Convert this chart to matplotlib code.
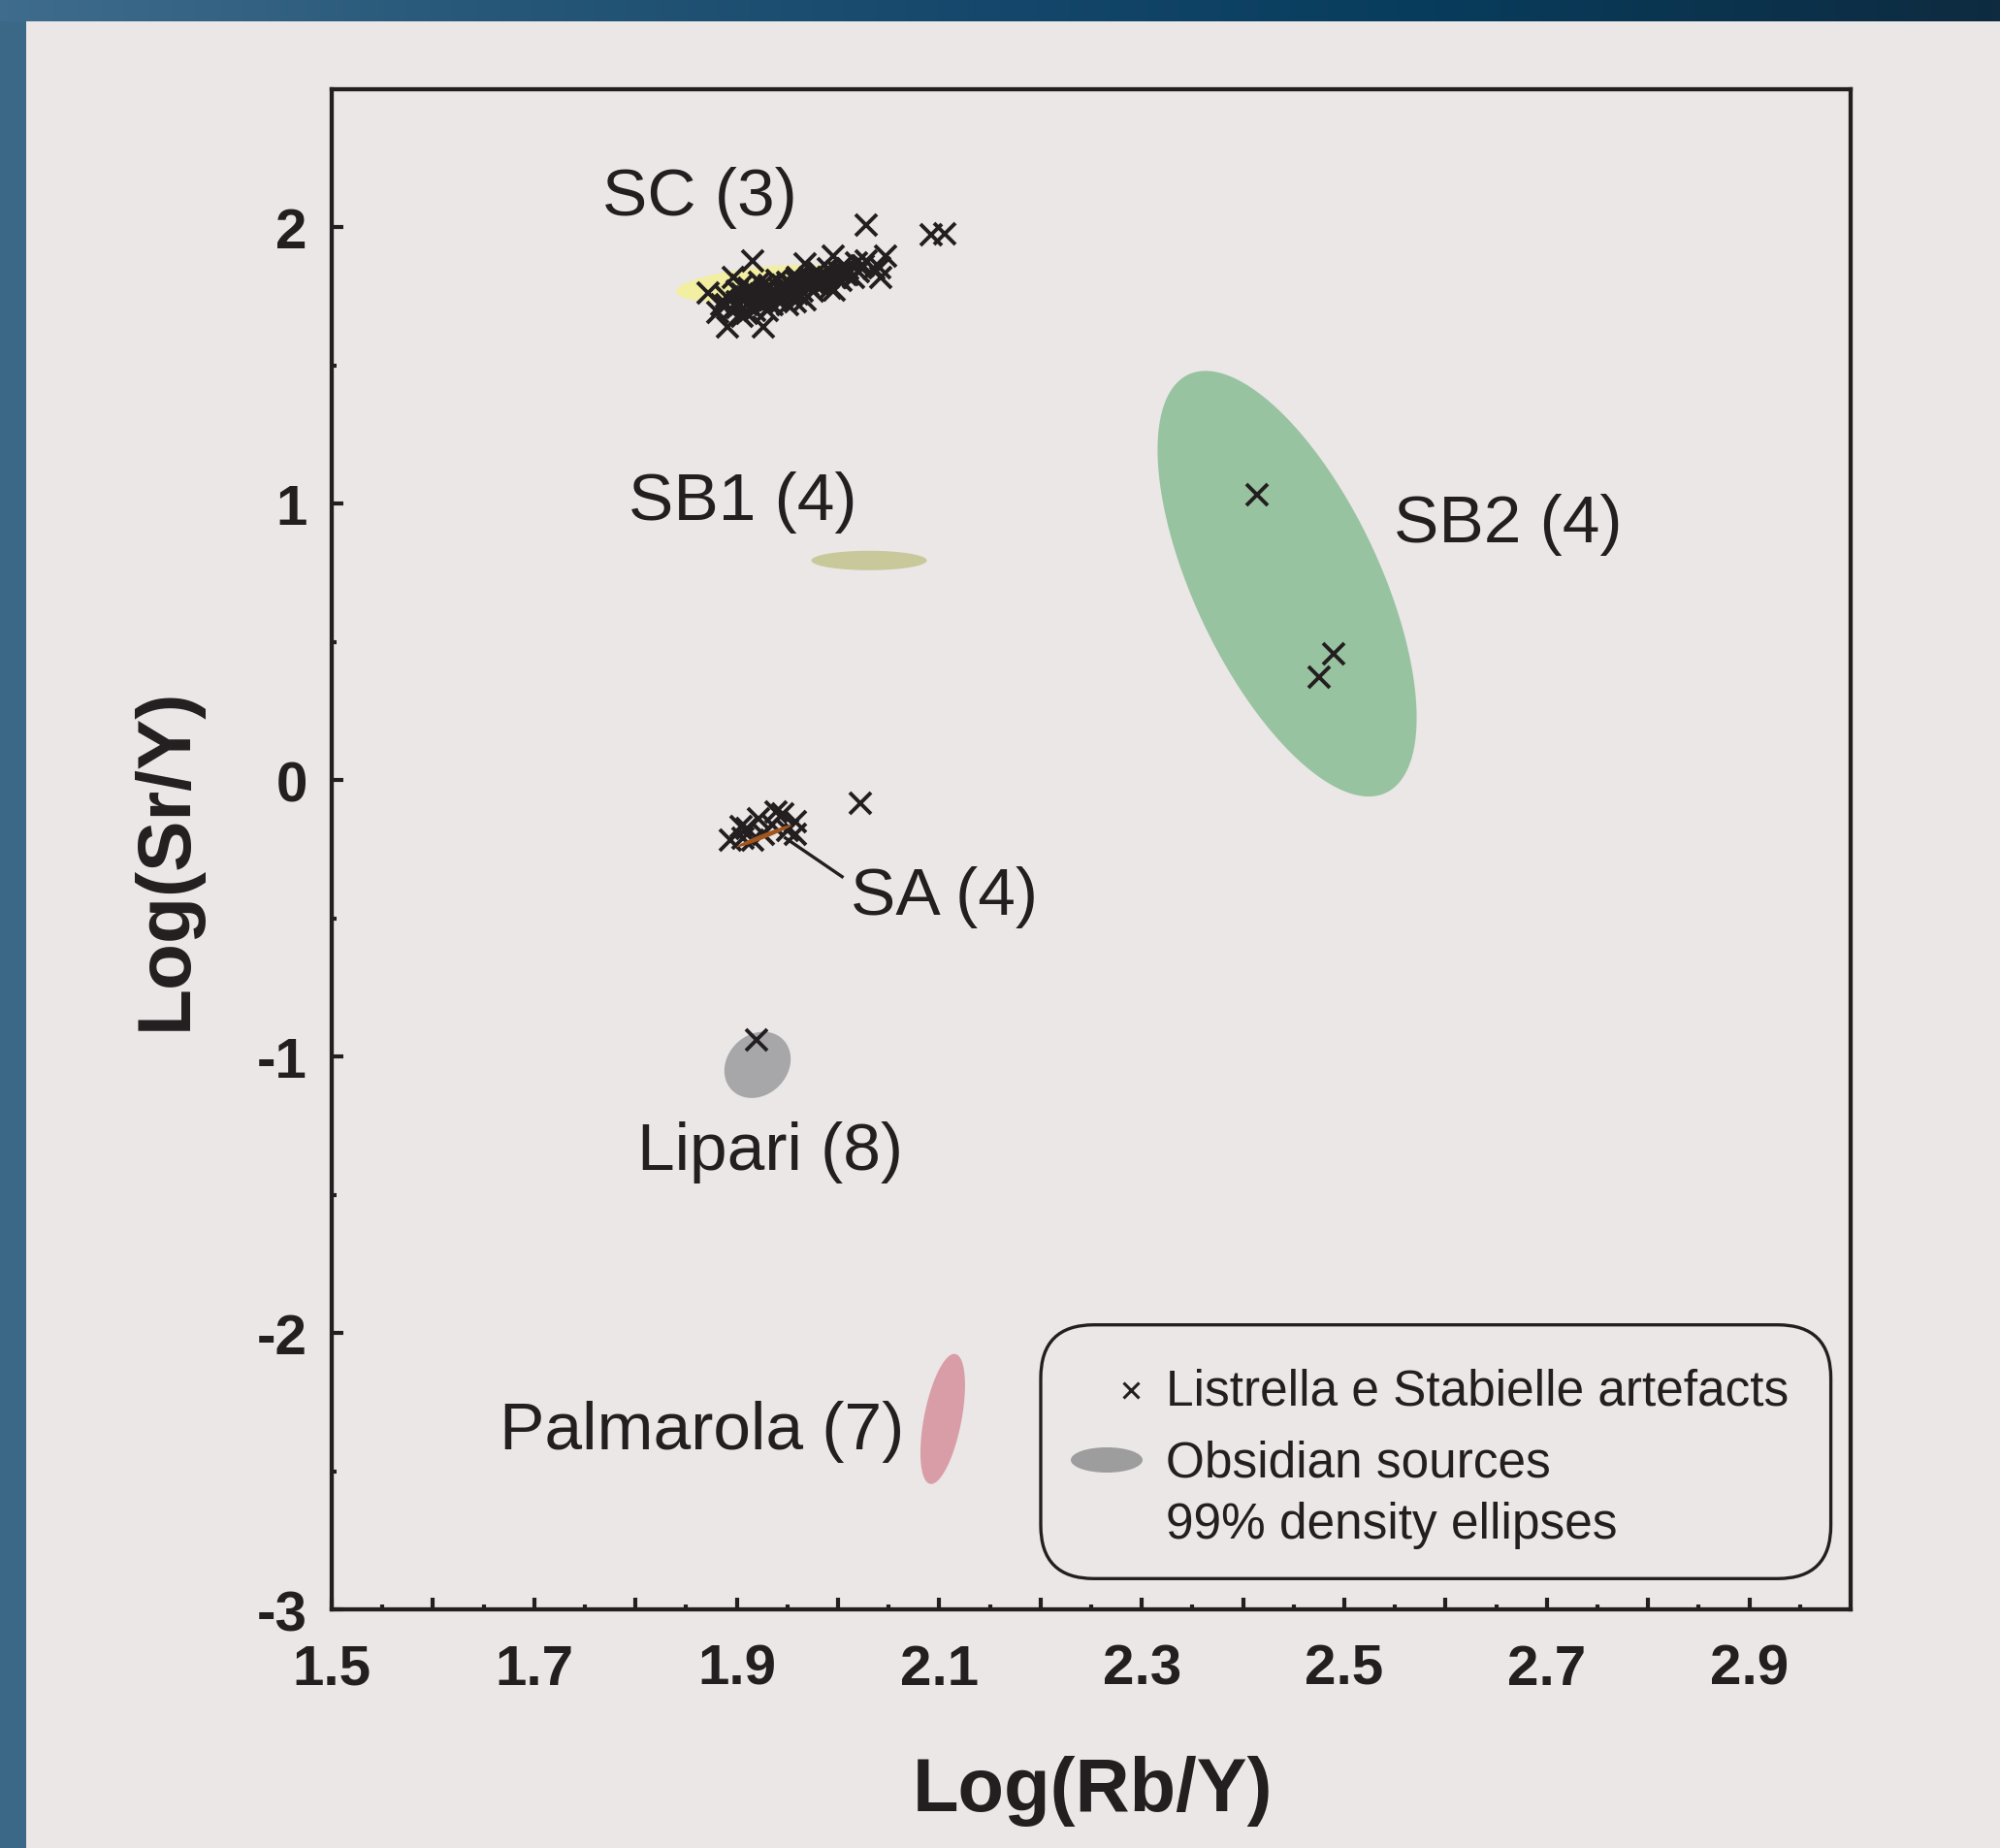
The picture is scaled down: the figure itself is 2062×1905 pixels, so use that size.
import numpy as np
import matplotlib
matplotlib.use("Agg")
import matplotlib.pyplot as plt
from matplotlib.patches import Polygon, FancyBboxPatch, Ellipse
from matplotlib.colors import LinearSegmentedColormap
from matplotlib import font_manager

names = {f.name for f in font_manager.fontManager.ttflist}
SANS = 'Liberation Sans' if 'Liberation Sans' in names else 'DejaVu Sans'
plt.rcParams['font.family'] = [SANS, 'DejaVu Sans']
plt.rcParams['axes.unicode_minus'] = False

# ---------------- data ----------------
sc_x = [1.872, 1.881, 1.891, 1.926, 1.897, 1.916, 1.885, 1.890, 1.895, 1.900, 1.905, 1.910,
        1.912, 1.915, 1.918, 1.920, 1.922, 1.925, 1.928, 1.930, 1.932, 1.935, 1.938, 1.940,
        1.942, 1.945, 1.948, 1.950, 1.952, 1.955, 1.958, 1.960, 1.962, 1.965, 1.967, 1.967,
        1.970, 1.972, 1.975, 1.978, 1.980, 1.982, 1.985, 1.988, 1.990, 1.992, 1.995, 1.996,
        1.998, 2.000, 2.003, 2.005, 2.008, 2.010, 2.015, 2.018, 2.020, 2.025, 2.028, 2.028,
        2.035, 2.041, 2.042, 2.047, 2.092, 2.105, 1.930, 1.950, 1.905,
        1.900, 1.905, 1.910, 1.915, 1.920, 1.925, 1.930, 1.935, 1.940, 1.945, 1.950, 1.955,
        1.960, 1.965, 1.970, 1.975, 1.980, 1.985, 1.990, 1.995, 2.000, 2.005, 2.010, 1.960,
        1.940, 1.920, 1.900, 1.890, 1.910, 1.930]
sc_y = [1.762, 1.692, 1.639, 1.639, 1.820, 1.879, 1.720, 1.750, 1.700, 1.730, 1.760, 1.720,
        1.780, 1.740, 1.700, 1.760, 1.800, 1.730, 1.770, 1.750, 1.790, 1.720, 1.760, 1.810,
        1.780, 1.740, 1.770, 1.800, 1.760, 1.790, 1.733, 1.820, 1.780, 1.800, 1.867, 1.740,
        1.790, 1.820, 1.770, 1.810, 1.840, 1.790, 1.820, 1.800, 1.850, 1.780, 1.896, 1.774,
        1.820, 1.840, 1.810, 1.860, 1.830, 1.850, 1.820, 1.870, 1.840, 1.860, 1.879, 2.010,
        1.850, 1.855, 1.820, 1.896, 1.973, 1.978, 1.700, 1.720, 1.680,
        1.770, 1.790, 1.750, 1.770, 1.730, 1.790, 1.780, 1.770, 1.750, 1.790, 1.780, 1.760,
        1.800, 1.770, 1.810, 1.800, 1.820, 1.800, 1.820, 1.830, 1.820, 1.840, 1.830, 1.760,
        1.740, 1.750, 1.710, 1.720, 1.690, 1.730]

sa_x = [1.894, 1.904, 1.910, 1.921, 1.926, 1.939, 1.945, 1.958, 1.958, 1.935, 1.916, 1.906, 1.950, 2.022]
sa_y = [-0.215, -0.168, -0.175, -0.139, -0.197, -0.115, -0.121, -0.150, -0.197, -0.160, -0.215, -0.210, -0.180, -0.084]

lipari_x = [1.9195]
lipari_y = [-0.940]

sb2_x = [2.414, 2.4895, 2.475]
sb2_y = [1.034, 0.458, 0.373]

# source ellipses: centre, two conjugate semi-axis vectors (data units)
src_names = ['SC (3)', 'SB1 (4)', 'SB2 (4)', 'SA (4)', 'Lipari (8)', 'Palmarola (7)']
src_center = [(1.928, 1.798), (2.0307, 0.795), (2.4435, 0.711), (1.927, -0.202), (1.9205, -1.030), (2.1034, -2.311)]
src_u = [(0.0881, 0.0316), (0.057, 0.0), (-0.0976, 0.7565), (0.0271, 0.0393), (0.0251, 0.0919), (0.01245, 0.235)]
src_v = [(0.0016, -0.0596), (0.0, 0.0351), (0.0827, 0.143), (0.00088, -0.0081), (0.0210, -0.0768), (0.01815, -0.01295)]
src_color = ['#F2EFA2', '#C9C89B', '#98C3A0', '#A2561F', '#A7A7AA', '#D99DA8']
label_xy = [(1.767, 2.048), (1.793, 0.944), (2.549, 0.865), (2.0125, -0.482), (1.802, -1.405), (1.666, -2.419)]
sa_leader = [(1.948, -0.209), (2.004, -0.349)]

xticks = [1.5, 1.7, 1.9, 2.1, 2.3, 2.5, 2.7, 2.9]
xticklabels = ['1.5', '1.7', '1.9', '2.1', '2.3', '2.5', '2.7', '2.9']
yticks = [-3, -2, -1, 0, 1, 2]
yticklabels = ['-3', '-2', '-1', '0', '1', '2']
legend_lines = ['Listrella e Stabielle artefacts', 'Obsidian sources', '99% density ellipses']

# ---------------- figure ----------------
W, H = 2062, 1906
PAGE = '#EAE7E6'
INK = '#231F20'
fig = plt.figure(figsize=(W / 100, H / 100), dpi=100)
fig.patch.set_facecolor(PAGE)

# decorative frame (top gradient bar + left bar)
top_h = 23 / H
left_w = 27 / W
bar_cmap = LinearSegmentedColormap.from_list(
    'bar', [(0, '#3F6C8C'), (0.25, '#265778'), (0.5, '#14476B'), (0.72, '#083C5C'), (1, '#0E2B40')])
axb = fig.add_axes([0, 1 - top_h, 1, top_h])
axb.imshow(np.linspace(0, 1, 512)[None, :], cmap=bar_cmap, aspect='auto', extent=[0, 1, 0, 1])
axb.set_axis_off()
axl = fig.add_axes([0, 0, left_w, 1 - top_h])
axl.set_facecolor('#3A6886')
axl.set_xticks([]); axl.set_yticks([])
for s in axl.spines.values():
    s.set_visible(False)

ax = fig.add_axes([342 / W, (H - 1660) / H, 1566 / W, 1567 / H])
ax.set_facecolor(PAGE)
ax.set_xlim(1.5, 3.0)
ax.set_ylim(-3, 2.5)

for s in ax.spines.values():
    s.set_linewidth(3.1)
    s.set_color(INK)

ax.set_xticks(xticks)
ax.set_xticklabels(xticklabels)
ax.set_xticks(np.arange(1.55, 3.0, 0.1), minor=True)
ax.set_yticks(yticks)
ax.set_yticklabels(yticklabels)
ax.set_yticks([-2.5, -1.5, -0.5, 0.5, 1.5], minor=True)
ax.tick_params(which='both', direction='in', color=INK, width=3.0)
ax.tick_params(which='major', length=8.6)
ax.tick_params(which='minor', length=3.6)
ax.tick_params(axis='x', which='major', pad=25)
ax.tick_params(axis='y', which='major', pad=18)
# unlabelled long ticks on the odd tenths
for t in [1.6, 1.8, 2.0, 2.2, 2.4, 2.6, 2.8]:
    ax.plot([t, t], [-3, -3 + 12 / 285], color=INK, lw=3.0, solid_capstyle='butt', clip_on=False, zorder=3)
for lab in ax.get_xticklabels() + ax.get_yticklabels():
    lab.set_fontweight('bold')
    lab.set_fontsize(42)
    lab.set_color(INK)

# ellipses
t = np.linspace(0, 2 * np.pi, 300)
for i, (c, u, v, col) in enumerate(zip(src_center, src_u, src_v, src_color)):
    px = c[0] + u[0] * np.cos(t) + v[0] * np.sin(t)
    py = c[1] + u[1] * np.cos(t) + v[1] * np.sin(t)
    z = 5 if src_names[i] == 'SA (4)' else 1
    ax.add_patch(Polygon(np.column_stack([px, py]), closed=True, facecolor=col, edgecolor='none', zorder=z))

# artefact points
mk = dict(linestyle='none', marker='x', color=INK, markersize=15.5, markeredgewidth=2.8, zorder=4)
ax.plot(sc_x, sc_y, **mk)
ax.plot(sa_x, sa_y, **mk)
ax.plot(lipari_x, lipari_y, **mk)
ax.plot(sb2_x, sb2_y, **mk)

# labels
for name, (lx, ly) in zip(src_names, label_xy):
    ax.text(lx, ly, name, fontsize=50, color=INK, ha='left', va='baseline', zorder=6)
ax.plot([p[0] for p in sa_leader], [p[1] for p in sa_leader], color=INK, lw=2.4, zorder=6)

# legend (manual)
bx0, bx1 = (1073 - 342) / 1566, (1887.6 - 342) / 1566
by0, by1 = (1660 - 1628.3) / 1567, (1660 - 1366.7) / 1567
ax.add_patch(FancyBboxPatch((bx0, by0), bx1 - bx0, by1 - by0,
                            boxstyle='round,pad=0,rounding_size=0.035', transform=ax.transAxes,
                            facecolor='none', edgecolor=INK, linewidth=2.4, zorder=7))
ax.plot([(1165.5 - 342) / 1566], [(1660 - 1434) / 1567], transform=ax.transAxes, linestyle='none',
        marker='x', color=INK, markersize=11, markeredgewidth=2.2, zorder=8)
ax.add_patch(Ellipse(((1141 - 342) / 1566, (1660 - 1506) / 1567), 74 / 1566, 26 / 1567,
                     transform=ax.transAxes, facecolor='#9D9D9D', edgecolor='none', zorder=8))
tx = (1202 - 342) / 1566
for s, by in zip(legend_lines, [1449, 1523, 1586]):
    ax.text(tx, (1660 - by) / 1567, s, transform=ax.transAxes, fontsize=37,
            color=INK, ha='left', va='baseline', zorder=8)

# axis titles
fig.text(1127 / W, 1 - 1867 / H, 'Log(Rb/Y)', fontsize=56, fontweight='bold', color=INK,
         ha='center', va='baseline')
fig.text(192 / W, 1 - 885 / H, 'Log(Sr/Y)', fontsize=56.5, fontweight='bold', color=INK,
         ha='center', va='baseline', rotation=90, rotation_mode='anchor')

fig.savefig('out.png', dpi=100, facecolor=fig.get_facecolor())
